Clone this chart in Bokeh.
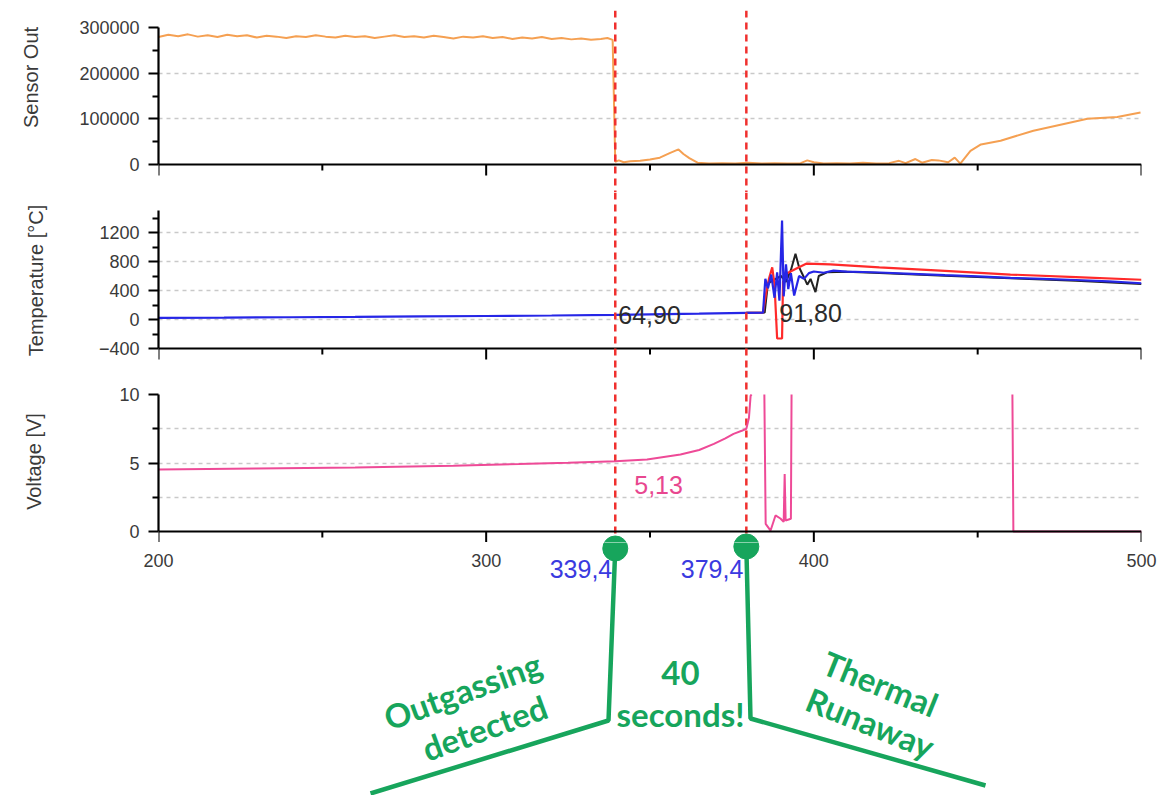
import math
from bokeh.plotting import figure
from bokeh.layouts import column, row
from bokeh.models import Range1d, Span, FixedTicker, BasicTickFormatter
from bokeh.core.properties import value
from bokeh.embed import file_html
from bokeh.resources import INLINE

# ---------------- data ----------------
SENSOR_T = [200, 203, 206, 209, 212, 215, 218, 221, 224, 227,
            230, 233, 236, 239, 242, 245, 248, 251, 254, 257,
            260, 263, 266, 269, 272, 275, 278, 281, 284, 287,
            290, 293, 296, 299, 302, 305, 308, 311, 314, 317,
            320, 323, 326, 329, 332, 335, 337, 338.6, 339.4, 340.5,
            342, 344, 347, 350, 353, 356, 358.7, 360.2, 362, 364.5,
            368, 372, 376, 380, 384, 388, 392, 396, 398, 400,
            403, 407, 411, 415, 419, 423, 426, 428, 431, 433,
            436, 438, 441, 443, 444.7, 447.8, 451, 457, 467, 477,
            483.5, 492.6, 499.7]
SENSOR_K = [279, 284, 281, 285, 280, 283, 279, 284, 281, 283,
            278, 282, 280, 277, 281, 279, 283, 280, 278, 282,
            279, 281, 277, 280, 283, 279, 281, 278, 282, 279,
            276, 280, 278, 281, 277, 279, 275, 278, 276, 279,
            275, 277, 274, 276, 273, 275, 277, 273, 6, 9,
            5, 7, 8, 11, 15, 25, 33, 23, 14, 4,
            2, 3, 2, 4, 2, 3, 2, 3, 9, 5,
            2, 3, 2, 4, 2, 3, 8, 3, 12, 4,
            10, 9, 5, 15, 2, 30, 44, 52, 74, 90,
            100, 104, 114]
SENSOR_V = [k * 1000 for k in SENSOR_K]

BLUE_T = [200, 220, 240, 260, 280, 300, 320, 339.4, 350, 365,
          379.4, 384.5, 385.2, 386, 387, 388, 388.8, 389.5, 390.3, 390.8,
          391.5, 392.2, 393, 394, 395.5, 397, 398.5, 400, 403,
          406, 410, 415, 420, 430, 440, 450, 460, 470, 480,
          490, 500]
BLUE_V = [22, 26, 31, 36, 42, 48, 55, 64.9, 72, 80,
          91.8, 95, 560, 430, 620, 300, 650, 260, 1365, 320,
          760, 420, 640, 330, 600, 560, 640, 662, 645,
          675, 660, 655, 648, 630, 612, 595, 575, 560, 545,
          525, 500]

RED_T = [379.4, 384.5, 385.5, 386.3, 387.3, 388.0, 388.8, 390.3, 390.6, 392,
         395, 397.8, 405, 420, 440, 460, 480, 500]
RED_V = [91.8, 95, 380, 560, 720, 480, -262, -262, 520, 640,
         710, 772, 760, 720, 670, 620, 585, 548]

BLACK_T = [379.4, 385, 386, 388, 390, 391.5, 393, 394.4, 395.5, 397,
           398, 399, 400.5, 401.5, 404, 410, 420, 440, 460, 480, 500]
BLACK_V = [91.8, 95, 500, 550, 600, 520, 680, 906, 720, 580,
           480, 560, 377, 600, 650, 660, 640, 605, 570, 535, 490]

NAN = float("nan")
VOLT_T = [200, 230, 260, 290, 310, 325, 339.4, 349.1, 359.3, 365,
          369.5, 373, 375.5, 378, 379.4, 380.2, 380.7, 381.0, 382, 384.9,
          385.3, 386.8, 388.3, 389.8, 390.8, 391.1, 391.4, 393.0, 393.2, 420,
          460.6, 460.9, 500]
VOLT_V = [4.53, 4.6, 4.68, 4.8, 4.92, 5.02, 5.13, 5.26, 5.62, 5.95,
          6.4, 6.8, 7.13, 7.35, 7.5, 8.3, 9.9, 10, NAN, 10,
          0.56, 0.07, 1.17, 0.95, 0.7, 4.2, 0.8, 0.93, 10, NAN,
          10, 0, 0]

EVENT_T = [339.4, 379.4]
EVENT_LABELS = ["339,4", "379,4"]
TEMP_EVENT_V = [64.90, 91.80]
TEMP_EVENT_LABELS = ["64,90", "91,80"]
VOLT_EVENT_V = 5.13
VOLT_EVENT_LABEL = "5,13"

X_TICKS = [200, 300, 400, 500]
X_MINOR = [250, 350, 450]
SENSOR_TICKS = [0, 100000, 200000, 300000]
SENSOR_MINOR = [50000, 150000, 250000]
TEMP_TICKS = [-400, 0, 400, 800, 1200]
TEMP_MINOR = [-200, 200, 600, 1000, 1400]
VOLT_TICKS = [0, 5, 10]
VOLT_MINOR = [2.5, 7.5]

TITLES = ["Sensor Out", "Temperature [°C]", "Voltage [V]"]
NOTE_TEXT = ["Outgassing", "detected", "40", "seconds!", "Thermal", "Runaway"]

# ---------------- layout (page pixels) ----------------
PAGE_H = 795
TITLE_W = 50
MAIN_W = 1108
B_LEFT = 108           # frame left at page x = 158
B_RIGHT = 17           # frame right at page x = 1141
X0, X1 = 200, 500
SX_LEFT = TITLE_W + B_LEFT
PX_PER_X = (MAIN_W - B_LEFT - B_RIGHT) / (X1 - X0)


def px2x(px):
    return X0 + (px - SX_LEFT) / PX_PER_X


def panel(top, bottom, va, pya, vb, pyb):
    k = (pya - pyb) / (vb - va)
    start = va - (bottom - pya) / k
    end = va + (pya - top) / k
    return Range1d(start, end), k


FONT = "Liberation Sans"
GREEN = "#17a55c"
RED_DASH = "#f0302e"
GRID = "#c9c9c9"
TXT = "#3a3a3a"
AXIS_Y = 531           # page y of the bottom x axis
C_BOTTOM = 542
CIRCLE_Y = [548, 546]


def base_fig(height, yr, top_border, ticks, minor, bounds, grid_ticks):
    p = figure(width=MAIN_W, height=height, x_range=Range1d(X0, X1), y_range=yr,
               x_axis_location=None, output_backend="svg", toolbar_location=None,
               min_border_left=B_LEFT, min_border_right=B_RIGHT,
               min_border_top=top_border, min_border_bottom=0)
    p.outline_line_color = None
    p.xgrid.visible = False
    ax = p.yaxis[0]
    ax.ticker = FixedTicker(ticks=ticks, minor_ticks=minor)
    ax.formatter = BasicTickFormatter(use_scientific=False)
    ax.bounds = bounds
    ax.axis_line_width = 2.2
    ax.axis_line_color = "black"
    ax.major_tick_in = 0
    ax.major_tick_out = 10
    ax.minor_tick_in = 0
    ax.minor_tick_out = 6
    ax.major_tick_line_width = 2
    ax.minor_tick_line_width = 2
    ax.major_tick_line_color = "black"
    ax.minor_tick_line_color = "black"
    ax.major_label_text_font = FONT
    ax.major_label_text_font_size = "18px"
    ax.major_label_text_color = TXT
    ax.major_label_standoff = 9
    g = p.ygrid[0]
    g.ticker = FixedTicker(ticks=grid_ticks)
    g.grid_line_color = GRID
    g.grid_line_dash = "4 4"
    g.grid_line_width = 1.5
    return p


def fake_xaxis(p, y0, k):
    p.add_layout(Span(location=y0, dimension="width", line_color="black", line_width=2.2))
    p.segment(x0=X_TICKS, y0=[y0] * len(X_TICKS), x1=X_TICKS,
              y1=[y0 - 11 / k] * len(X_TICKS), line_color="black", line_width=2)
    p.segment(x0=X_MINOR, y0=[y0] * len(X_MINOR), x1=X_MINOR,
              y1=[y0 - 6 / k] * len(X_MINOR), line_color="black", line_width=2)


def add_event_spans(p):
    for t in EVENT_T:
        p.add_layout(Span(location=t, dimension="height", line_color=RED_DASH,
                          line_width=2.5, line_dash="7 5"))


# ---------------- title strip (y in page pixels) ----------------
pT = figure(width=TITLE_W, height=C_BOTTOM, x_range=Range1d(0, TITLE_W),
            y_range=Range1d(C_BOTTOM, 0), x_axis_location=None, y_axis_location=None,
            output_backend="svg", toolbar_location=None, min_border=0)
pT.outline_line_color = None
pT.grid.visible = False
pT.text(x=[30, 35, 33], y=[77, 280, 461], text=TITLES, angle=math.pi / 2,
        text_font=value(FONT), text_font_size="20px", text_color=TXT,
        text_align="center", text_baseline="middle")

# ---------------- panel A: sensor ----------------
yrA, kA = panel(10, 192, 0, 164, 300000, 27)
pA = base_fig(192, yrA, 10, SENSOR_TICKS, SENSOR_MINOR, (0, 300000), [100000, 200000])
fake_xaxis(pA, 0, kA)
pA.line(SENSOR_T, SENSOR_V, line_color="#f5a052", line_width=2)
add_event_spans(pA)

# ---------------- panel B: temperature ----------------
yrB, kB = panel(192, 370, 0, 319, 1200, 232)
pB = base_fig(178, yrB, 0, TEMP_TICKS, TEMP_MINOR, (-400, 1500), [0, 400, 800, 1200])
fake_xaxis(pB, -400, kB)
add_event_spans(pB)
pB.line(BLACK_T, BLACK_V, line_color="#222222", line_width=2)
pB.line(RED_T, RED_V, line_color="#ff2a2a", line_width=2.2)
pB.line(BLUE_T, BLUE_V, line_color="#2626e6", line_width=2.2)
pB.text(x=EVENT_T, y=TEMP_EVENT_V, text=TEMP_EVENT_LABELS, x_offset=[3, 33],
        text_font=value(FONT), text_font_size="25px", text_color="#2b2b2b",
        text_align="left", text_baseline="middle")

# ---------------- panel C: voltage ----------------
yrC, kC = panel(370, C_BOTTOM, 0, AXIS_Y, 10, 394)
pC = base_fig(C_BOTTOM - 370, yrC, 0, VOLT_TICKS, VOLT_MINOR, (0, 10), [2.5, 5, 7.5])
fake_xaxis(pC, 0, kC)
for t, cy in zip(EVENT_T, CIRCLE_Y):
    pC.segment(x0=[t], y0=[yrC.end], x1=[t], y1=[(AXIS_Y - cy) / kC],
               line_color=RED_DASH, line_width=2.5, line_dash="7 5")
pC.line(VOLT_T, VOLT_V, line_color="#ee4a97", line_width=2)
pC.text(x=[EVENT_T[0]], y=[VOLT_EVENT_V], text=[VOLT_EVENT_LABEL], x_offset=19, y_offset=24,
        text_font=value(FONT), text_font_size="25px", text_color="#e8478f",
        text_align="left", text_baseline="middle")
# upper part of the callout dots (the rest is drawn in panel D)
pC.scatter(x=EVENT_T, y=[(AXIS_Y - cy) / kC for cy in CIRCLE_Y], size=25,
           color=GREEN, line_color=GREEN)

# ---------------- panel D: x tick labels + callouts (y in page pixels) ----------------
D_W = TITLE_W + MAIN_W
D_LEFT = 20
pD = figure(width=D_W, height=PAGE_H - C_BOTTOM,
            x_range=Range1d(px2x(D_LEFT), px2x(D_W)),
            y_range=Range1d(PAGE_H, C_BOTTOM), x_axis_location=None, y_axis_location=None,
            output_backend="svg", toolbar_location=None,
            min_border_left=D_LEFT, min_border_right=0, min_border_top=0, min_border_bottom=0)
pD.outline_line_color = None
pD.grid.visible = False
pD.text(x=X_TICKS, y=[560] * len(X_TICKS), text=[str(t) for t in X_TICKS],
        text_font=value(FONT), text_font_size="18px", text_color=TXT,
        text_align="center", text_baseline="middle")
pD.text(x=EVENT_T, y=[568, 568], text=EVENT_LABELS, x_offset=-3,
        text_font=value(FONT), text_font_size="25px", text_color="#3a3ae0",
        text_align="right", text_baseline="middle")

CALL1 = [(608, 720), (370, 793)]
CALL2 = [(750, 718), (985, 785)]
for (t, cy, path) in [(EVENT_T[0], CIRCLE_Y[0], CALL1), (EVENT_T[1], CIRCLE_Y[1], CALL2)]:
    xs = [t] + [px2x(px) for px, _ in path]
    ys = [cy] + [py for _, py in path]
    pD.line(xs, ys, line_color=GREEN, line_width=4.5)
pD.scatter(x=EVENT_T, y=CIRCLE_Y, size=25, color=GREEN, line_color=GREEN)

NOTE_PX = [(462, 690), (484, 727), (680, 672), (680, 713), (880, 683), (870, 722)]
NOTE_ANGLE = [20, 20, 0, 0, -22, -22]
pD.text(x=[px2x(a) for a, _ in NOTE_PX], y=[b for _, b in NOTE_PX], text=NOTE_TEXT,
        angle=[math.radians(a) for a in NOTE_ANGLE],
        text_font=value("Lato"), text_font_style="bold", text_font_size="33px",
        text_color=GREEN, text_align="center", text_baseline="middle")

top = row(pT, column(pA, pB, pC, spacing=0), spacing=0)
layout = column(top, pD, spacing=0)
open("out.html", "w").write(file_html(layout, INLINE))
